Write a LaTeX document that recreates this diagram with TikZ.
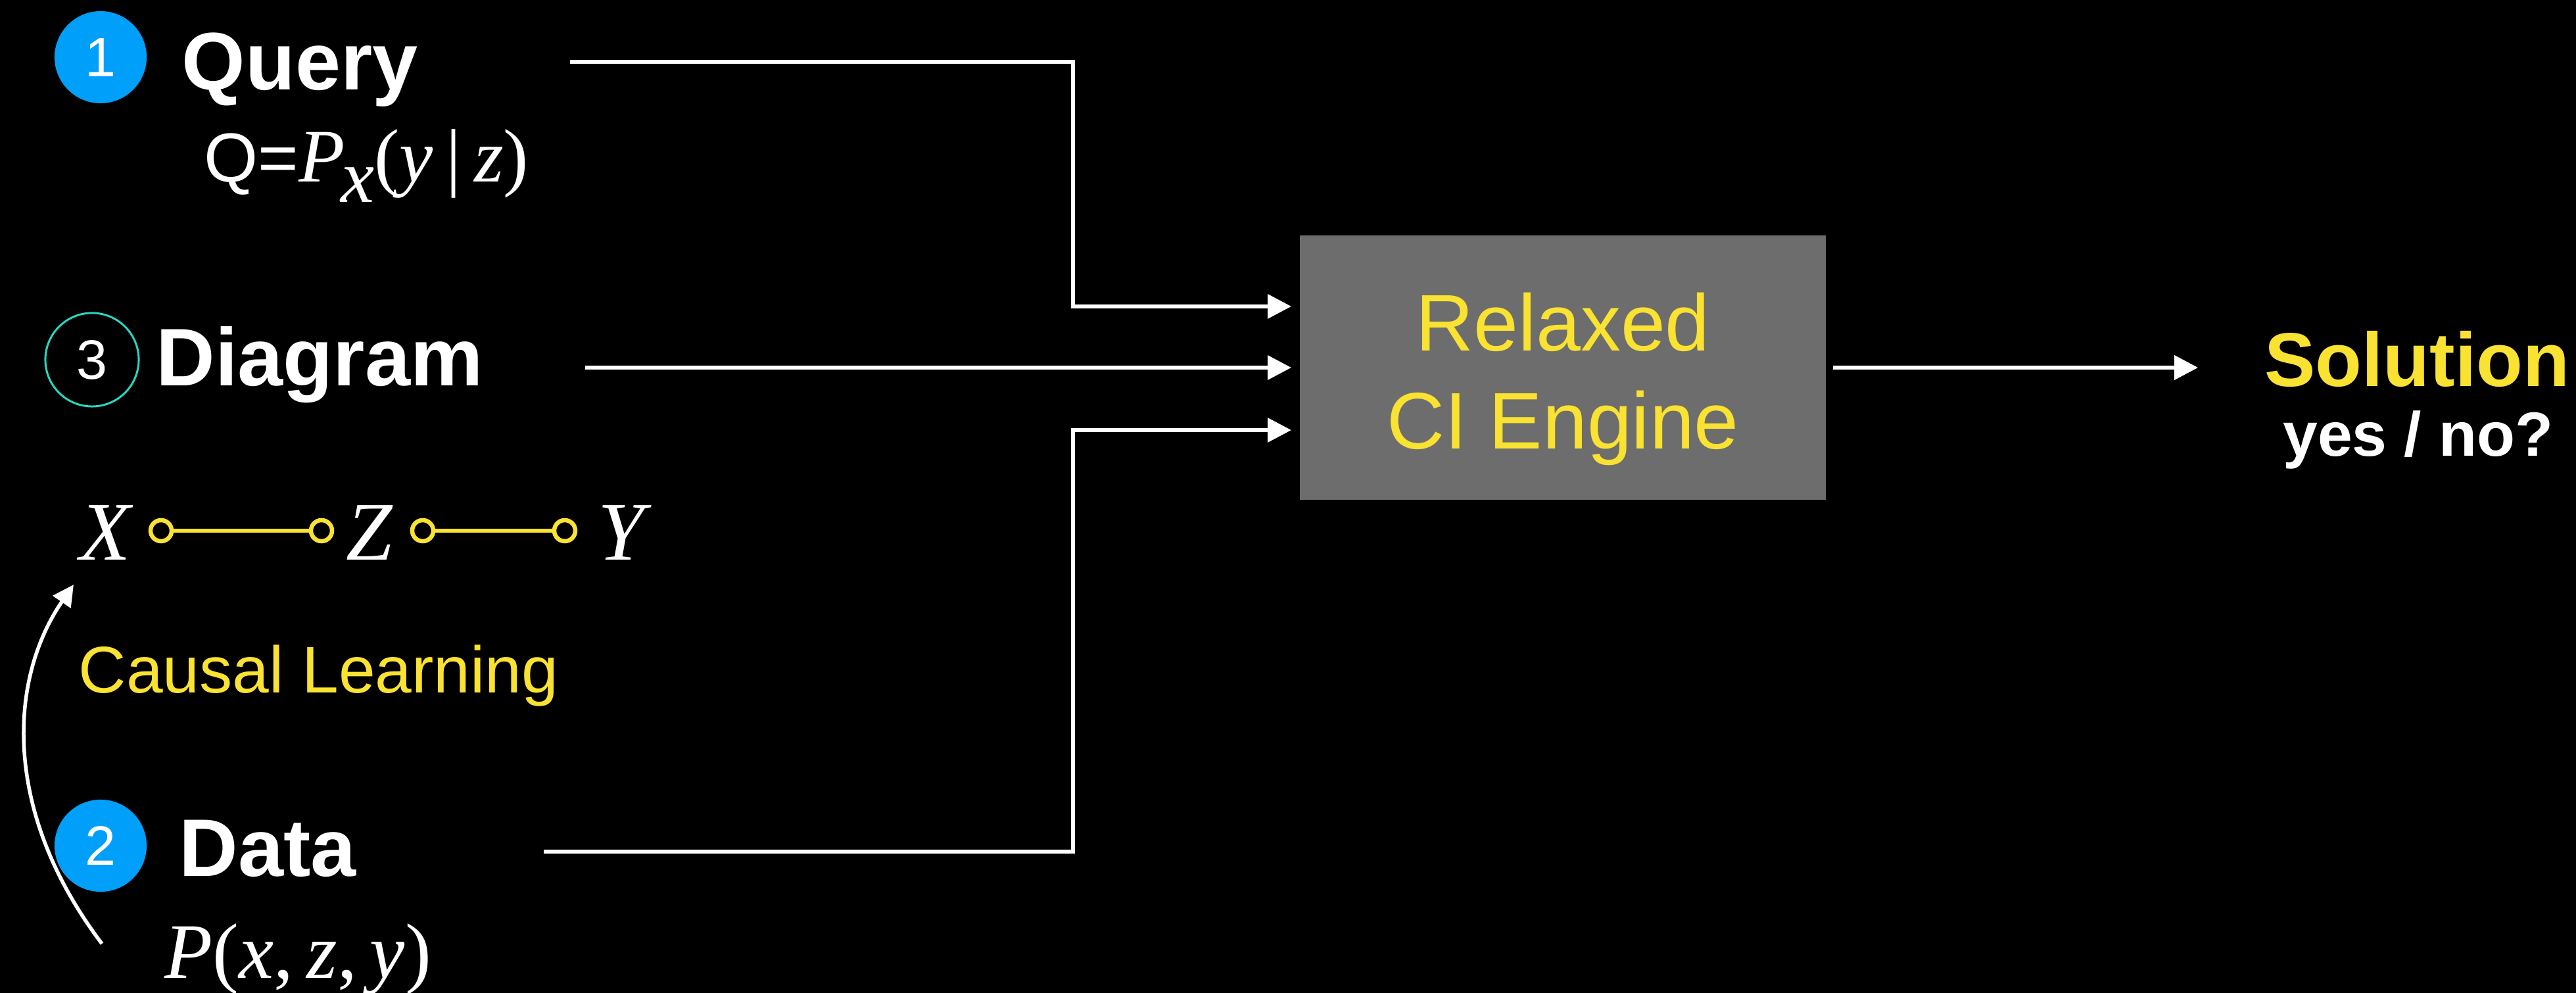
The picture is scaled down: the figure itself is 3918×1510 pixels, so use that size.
\documentclass[tikz,border=0pt]{standalone}
\usepackage{fontspec}
\setmainfont{Liberation Serif}
\setsansfont{Liberation Sans}
\usetikzlibrary{arrows.meta}
\definecolor{numblue}{RGB}{0,160,250}
\definecolor{tealring}{RGB}{40,215,195}
\definecolor{hlyellow}{RGB}{249,226,49}
\definecolor{boxgray}{RGB}{109,109,109}
\begin{document}
\begin{tikzpicture}[x=0.01cm,y=-0.01cm,
  heading/.style={anchor=base west, inner sep=0pt, text=white, font=\sffamily\bfseries\fontsize{35.3}{42}\selectfont},
  bluenum/.style={circle, fill=numblue, minimum size=1.4cm, inner sep=0pt, text=white, font=\sffamily\fontsize{24}{28}\selectfont},
  tealnum/.style={circle, draw=tealring, line width=0.03cm, minimum size=1.42cm, inner sep=0pt, text=white, font=\sffamily\fontsize{24}{28}\selectfont},
  formula/.style={anchor=base west, inner sep=0pt, text=white, font=\rmfamily\fontsize{32.7}{38}\selectfont},
  var/.style={anchor=base west, inner sep=0pt, text=white, font=\rmfamily\itshape\fontsize{36}{42}\selectfont},
  ring/.style={circle, draw=hlyellow, line width=0.065cm, minimum size=0.32cm, inner sep=0pt},
  yline/.style={draw=hlyellow, line width=0.055cm},
  conn/.style={draw=white, line width=0.065cm, line join=miter, -{Triangle[length=0.36cm,width=0.36cm]}},
  curvearrow/.style={draw=white, line width=0.055cm, -{Triangle[length=0.32cm,width=0.32cm]}},
  engine/.style={rectangle, fill=boxgray, minimum width=8cm, minimum height=4.02cm, inner sep=0pt},
  enginetext/.style={inner sep=0pt, align=center, text=hlyellow, font=\sffamily\fontsize{34.7}{42.4}\selectfont},
  learn/.style={anchor=base west, inner sep=0pt, text=hlyellow, font=\sffamily\fontsize{28.5}{34}\selectfont},
  soltitle/.style={anchor=base, inner sep=0pt, text=hlyellow, font=\sffamily\bfseries\fontsize{33}{40}\selectfont},
  solsub/.style={anchor=base, inner sep=0pt, text=white, font=\sffamily\bfseries\fontsize{27}{32}\selectfont}
]
\fill[black] (0,0) rectangle (3918,1510);
\useasboundingbox (0,0) rectangle (3918,1510);

% left column
\node[bluenum] (n1) at (153,87) {1};
\node[heading] (query) at (276,137) {Query};
\node[formula] (qformula) at (310,277) {{\sffamily\fontsize{30}{34}\selectfont Q=}\textit{P}\hspace{-0.06cm}\raisebox{-0.3cm}{\textit{x}}(\textit{y}\hspace{0.19cm}|\hspace{0.2cm}\textit{z})};

\node[tealnum] (n3) at (140,547) {3};
\node[heading] (diagram) at (237,587) {Diagram};

\node[var] (X) at (121,852) {X};
\node[var] (Z) at (526,852) {Z};
\node[var] (Y) at (909,852) {Y};
\node[ring] (xr) at (245,807) {};
\node[ring] (zl) at (489,807) {};
\node[ring] (zr) at (643,807) {};
\node[ring] (yl) at (859,807) {};
\draw[yline] (xr) -- (zl);
\draw[yline] (zr) -- (yl);

\node[learn] (learning) at (119,1054) {Causal Learning};

\node[bluenum] (n2) at (153,1286) {2};
\node[heading] (data) at (272,1332) {Data};
\node[formula, font=\rmfamily\fontsize{34}{40}\selectfont] (pdata) at (250,1487) {\textit{P}(\textit{x},\hspace{0.2cm}\textit{z},\hspace{0.2cm}\textit{y})};

\coordinate (cstart) at (155,1435);
\coordinate (ctip) at (112,889);
\draw[curvearrow] (cstart) .. controls (0,1230) and (15,1030) .. (ctip);

% engine
\node[engine] (engine) at (2377,559) {};
\node[enginetext] (enginelabel) at ([yshift=-0.17cm]engine.center) {Relaxed\\CI Engine};

% connectors
\coordinate (qstart) at (867,94);
\coordinate (qbend) at (1632,94);
\coordinate (dstart) at (890,559);
\coordinate (astart) at (827,1295);
\coordinate (abend) at (1632,1295);
\draw[conn, shorten >=0.12cm] (qstart) -- (qbend) |- ([yshift=0.93cm]engine.west);
\draw[conn, shorten >=0.12cm] (dstart) -- (engine.west);
\draw[conn, shorten >=0.12cm] (astart) -- (abend) |- ([yshift=-0.95cm]engine.west);

% solution
\node[soltitle] (sol) at (3676,588) {Solution};
\node[solsub] (yesno) at (3678,694) {yes / no?};
\draw[conn, shorten <=0.1cm, shorten >=1.0cm] (engine.east) -- (engine.east -| sol.west);
\end{tikzpicture}
\end{document}
